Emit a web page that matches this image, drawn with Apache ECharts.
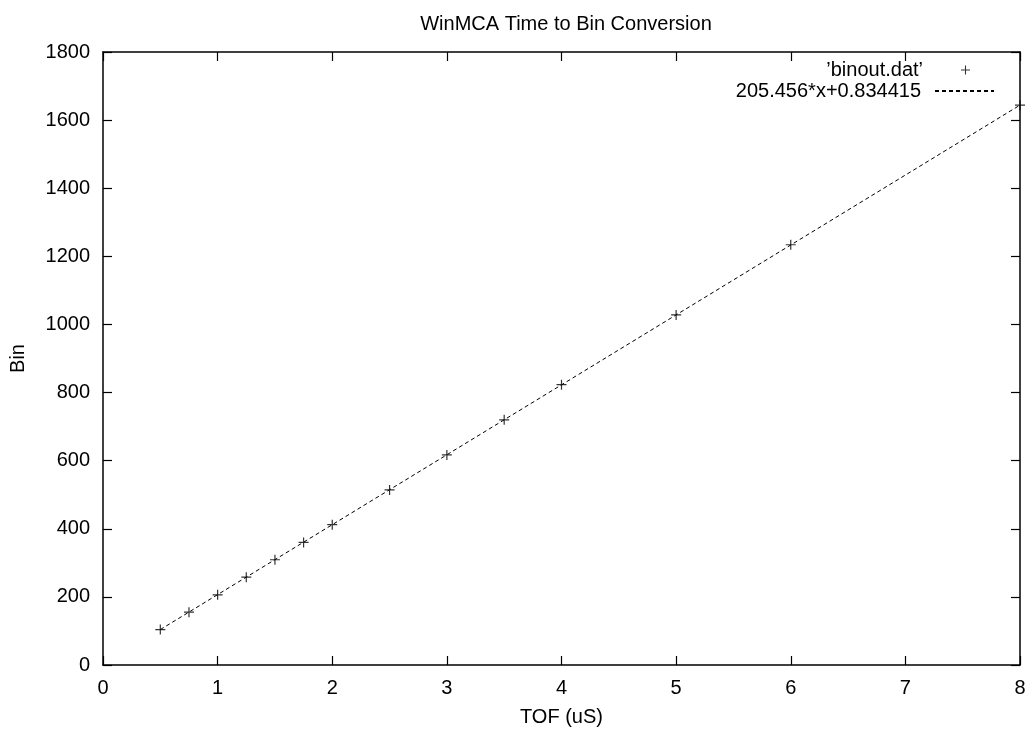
<!DOCTYPE html>
<html>
<head>
<meta charset="utf-8">
<script src="https://cdn.jsdelivr.net/npm/echarts@6/dist/echarts.min.js"></script>
<style>
  html, body { margin: 0; padding: 0; background: #fff; }
  #chart { width: 1029px; height: 732px; }
</style>
</head>
<body>
<div id="chart"></div>
<script>
// measured points from binout.dat
var tofValues = [0.5, 0.75, 1, 1.25, 1.5, 1.75, 2, 2.5, 3, 3.5, 4, 5, 6, 8];
var binValues = [104, 155, 206, 258, 309, 360, 412, 514, 617, 720, 823, 1028, 1234, 1644];

// fitted line end points
var fitX = [0.5, 8];
var fitY = [104, 1644];

var pointName = '\u2019binout.dat\u2019';
var fitName = '205.456*x+0.834415';

var plusIcon = 'path://M0,4.4H10V5.6H0Z M4.4,0H5.6V10H4.4Z';
var font = 'Liberation Sans, Arial, sans-serif';

var points = [];
for (var i = 0; i < tofValues.length; i++) {
    points.push([tofValues[i], binValues[i]]);
}
var fit = [];
for (var j = 0; j < fitX.length; j++) {
    fit.push([fitX[j], fitY[j]]);
}

function axisLine() {
    return { show: true, onZero: false, lineStyle: { color: '#000', width: 1.5 } };
}
function ticks() {
    return { show: true, inside: true, length: 9, lineStyle: { color: '#000', width: 1.2 } };
}
function labels() {
    return { fontFamily: font, fontSize: 20, color: '#000', margin: 13, formatter: function (v) { return String(v); } };
}

var myChart = echarts.init(document.getElementById('chart'));

var option = {
    backgroundColor: '#fff',
    animation: false,
    title: {
        text: 'WinMCA Time to Bin Conversion',
        left: 561,
        textAlign: 'center',
        top: 9,
        textStyle: { fontFamily: font, fontSize: 20, fontWeight: 'normal', color: '#000' }
    },
    legend: [{
        data: [{ name: pointName, icon: plusIcon }],
        right: 59,
        top: 60,
        padding: 0,
        align: 'right',
        itemWidth: 9,
        itemHeight: 9,
        textStyle: { fontFamily: font, fontSize: 20, color: '#000', padding: [0, 33, 0, 0] }
    }, {
        data: [fitName],
        right: 34,
        top: 81,
        padding: 0,
        align: 'right',
        itemWidth: 59,
        itemHeight: 12,
        itemStyle: { opacity: 0 },
        textStyle: { fontFamily: font, fontSize: 20, color: '#000', padding: [0, 9, 0, 0] }
    }],
    grid: { left: 102, right: 9, top: 52, bottom: 65 },
    xAxis: [{
        type: 'value',
        min: 0, max: 8, interval: 1,
        name: 'TOF (uS)',
        nameLocation: 'middle',
        nameGap: 42,
        nameTextStyle: { fontFamily: font, fontSize: 20, color: '#000' },
        axisLine: axisLine(),
        axisTick: ticks(),
        splitLine: { show: false },
        axisLabel: labels()
    }, {
        type: 'value',
        position: 'top',
        min: 0, max: 8, interval: 1,
        axisLine: axisLine(),
        axisTick: ticks(),
        splitLine: { show: false },
        axisLabel: { show: false }
    }],
    yAxis: [{
        type: 'value',
        min: 0, max: 1800, interval: 200,
        name: 'Bin',
        nameLocation: 'middle',
        nameGap: 75,
        nameTextStyle: { fontFamily: font, fontSize: 20, color: '#000' },
        axisLine: axisLine(),
        axisTick: ticks(),
        splitLine: { show: false },
        axisLabel: labels()
    }, {
        type: 'value',
        position: 'right',
        min: 0, max: 1800, interval: 200,
        axisLine: axisLine(),
        axisTick: ticks(),
        splitLine: { show: false },
        axisLabel: { show: false }
    }],
    series: [{
        name: pointName,
        type: 'scatter',
        data: points,
        symbol: plusIcon,
        symbolSize: 10,
        itemStyle: { color: '#000' },
        z: 3
    }, {
        name: fitName,
        type: 'line',
        data: fit,
        symbol: 'none',
        lineStyle: { color: '#000', width: 1, type: [4, 3] },
        itemStyle: { color: '#000' },
        z: 2
    }]
};

myChart.setOption(option);
</script>
</body>
</html>
